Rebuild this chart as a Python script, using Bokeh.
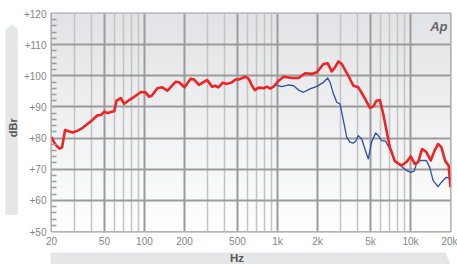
import math
import numpy as np
from bokeh.plotting import figure
from bokeh.layouts import row, column
from bokeh.models import Range1d, FixedTicker, Label, BoxAnnotation
from bokeh.core.properties import value
from bokeh.embed import file_html
from bokeh.resources import INLINE

# ---------------- data ----------------
red_freq = [20, 21.0, 21.7, 23.0, 24.0, 25.3, 27.3, 28.9, 31.5, 34.3, 39.6, 44.4, 47.1, 49.9,
            52.8, 55.9, 59.3, 61.7, 66.4, 70.4, 76.8, 86.0, 93.8, 102, 108, 113, 125, 136,
            149, 172, 182, 200, 222, 236, 257, 288, 296, 323, 342, 360, 388, 418, 456, 483,
            512, 574, 608, 644, 675, 723, 788, 834, 883, 935, 1020, 1112, 1284, 1442, 1614,
            1812, 1976, 2218, 2388, 2559, 2710, 2872, 3041, 3412, 3722, 4056, 4425, 4957,
            5250, 5560, 5888, 6237, 6606, 6998, 7622, 8562, 9332, 10046, 10767, 11421,
            12235, 13180, 14195, 15206, 16110, 17064, 18280, 19360, 20000]
red_db = [80.3, 78.5, 77.6, 76.6, 77.0, 82.6, 82.1, 81.8, 82.4, 83.3, 85.4, 87.3, 87.4, 88.5,
          88.0, 88.4, 88.6, 92.0, 92.8, 91.0, 92.2, 93.6, 94.8, 94.7, 93.3, 93.5, 96.0, 96.3,
          95.2, 98.1, 97.9, 96.3, 99.0, 98.8, 97.1, 98.4, 98.6, 96.5, 96.8, 96.3, 97.8, 97.4,
          97.9, 98.8, 98.8, 99.7, 99.0, 96.8, 95.4, 96.2, 96.0, 96.5, 95.9, 96.5, 98.4, 99.7,
          99.3, 99.3, 100.8, 100.6, 101.1, 103.8, 104.0, 101.4, 102.7, 104.6, 103.8, 100.0,
          96.8, 96.3, 93.6, 89.7, 90.1, 92.0, 92.2, 87.8, 82.4, 77.1, 72.6, 71.2, 72.3, 74.1,
          71.7, 72.3, 76.5, 75.5, 72.8, 76.0, 78.1, 77.1, 72.6, 71.2, 64.2]

blue_freq = [935, 963, 1080, 1213, 1322, 1442, 1570, 1760, 1976, 2218, 2388, 2487, 2636, 2791,
             2953, 3133, 3316, 3508, 3722, 3872, 4056, 4296, 4546, 4820, 5101, 5470, 5728,
             6062, 6498, 6998, 7622, 8562, 9332, 10046, 10660, 11093, 11740, 13180, 13957,
             14791, 16110, 17064, 18600, 19694, 20000]
blue_db = [96.5, 97.1, 96.5, 97.1, 96.8, 95.4, 94.7, 95.8, 96.6, 97.9, 99.3, 97.9, 94.2, 91.5,
           91.0, 85.6, 80.3, 78.7, 78.4, 79.0, 80.8, 79.7, 76.5, 73.3, 78.7, 81.6, 80.8, 79.2,
           79.0, 76.5, 72.8, 70.9, 69.6, 69.0, 69.4, 71.7, 72.8, 72.8, 70.6, 66.4, 64.4, 65.8,
           67.4, 67.2, 66.4]

x_ticks = [20, 50, 100, 200, 500, 1000, 2000, 5000, 10000, 20000]
x_tick_labels = ["20", "50", "100", "200", "500", "1k", "2k", "5k", "10k", "20k"]
x_minor = [30, 40, 60, 70, 80, 90, 300, 400, 600, 700, 800, 900,
           3000, 4000, 6000, 7000, 8000, 9000]
y_ticks = [50, 60, 70, 80, 90, 100, 110, 120]
y_tick_labels = ["+50", "+60", "+70", "+80", "+90", "+100", "+110", "+120"]
y_minor = [v for v in range(50, 121, 2) if v % 10 != 0]

x_title = "Hz"
y_title = "dBr"
logo = "Ap"

# ---------------- layout ----------------
TOTAL_W, TOTAL_H = 457, 264
LEFT_W = 20          # strip holding the dBr bar
BOTTOM_H = 14        # strip holding the Hz bar
W, H = TOTAL_W - LEFT_W, TOTAL_H - BOTTOM_H
ML, MR, MT, MB = 29, 7, 13, 19
FW, FH = W - ML - MR, H - MT - MB

GRID_MAJ = "#9b9b9b"
GRID_MIN = "#c3c3c3"
LABEL_C = "#858585"
BAR_C = "#e5e6e8"
TITLE_C = "#555555"
FONT = "Liberation Sans"

p = figure(width=W, height=H, x_axis_type="log",
           x_range=Range1d(20, 20000), y_range=Range1d(50, 120),
           min_border_left=ML, min_border_right=MR, min_border_top=MT, min_border_bottom=MB,
           output_backend="svg", toolbar_location=None,
           background_fill_color="#fdfdfd", border_fill_color="white",
           outline_line_color=GRID_MAJ, outline_line_width=2)

# background gradient (top grey -> bottom white)
n = 40
edges = np.linspace(50, 120, n + 1)
c_top = np.array([226, 227, 230])
c_bot = np.array([254, 254, 254])
for i in range(n):
    t = (edges[i] + edges[i + 1]) / 2
    f = (t - 50) / 70.0
    c = (c_bot + (c_top - c_bot) * f).round().astype(int)
    p.add_layout(BoxAnnotation(bottom=edges[i], top=edges[i + 1] + 0.2,
                               fill_color="#%02x%02x%02x" % tuple(c), fill_alpha=1,
                               line_color=None, level="image"))

# axes
xt = FixedTicker(ticks=x_ticks, minor_ticks=x_minor)
yt = FixedTicker(ticks=y_ticks, minor_ticks=y_minor)
p.xaxis.ticker = xt
p.yaxis.ticker = yt
p.xgrid.ticker = xt
p.ygrid.ticker = yt
p.xaxis.major_label_overrides = {v: s for v, s in zip(x_ticks, x_tick_labels)}
p.yaxis.major_label_overrides = {v: s for v, s in zip(y_ticks, y_tick_labels)}

for ax in (p.xaxis, p.yaxis):
    ax.axis_line_color = None
    ax.major_tick_line_color = None
    ax.major_tick_in = 0
    ax.major_tick_out = 0
    ax.major_label_text_color = LABEL_C
    ax.major_label_text_font = FONT
    ax.major_label_text_font_size = "10px"
p.xaxis.minor_tick_line_color = None
p.xaxis.minor_tick_out = 0
p.xaxis.major_label_standoff = 4
p.yaxis.major_label_standoff = 5
p.yaxis.minor_tick_line_color = GRID_MAJ
p.yaxis.minor_tick_line_width = 1.5
p.yaxis.minor_tick_in = 5
p.yaxis.minor_tick_out = 0

p.xgrid.grid_line_color = GRID_MAJ
p.xgrid.grid_line_width = 2
p.xgrid.minor_grid_line_color = GRID_MIN
p.xgrid.minor_grid_line_width = 1.5
p.ygrid.grid_line_color = GRID_MAJ
p.ygrid.grid_line_width = 2

# data lines
p.line(blue_freq, blue_db, line_color="#2f4fa6", line_width=1.3, line_join="round")
p.line(red_freq, red_db, line_color="#ee2424", line_width=2.6, line_join="round")

# logo
p.add_layout(Label(x=FW - 5, y=FH - 5, x_units="screen", y_units="screen", text=logo,
                   text_align="right", text_baseline="top", text_font=FONT,
                   text_font_size="13px", text_font_style="bold italic", text_color="#666666"))

# ---------------- left strip: dBr bar ----------------
left = figure(width=LEFT_W, height=H, x_range=Range1d(0, LEFT_W), y_range=Range1d(H, 0),
              min_border=0, output_backend="svg", toolbar_location=None,
              x_axis_location=None, y_axis_location=None, outline_line_color=None,
              background_fill_color="white", border_fill_color="white")
left.grid.visible = False
left.patch([5, 17.3, 17.3, 11.1, 5], [231, 231, 18.5, 12.7, 18.5],
           fill_color=BAR_C, line_color=None)
left.text([12.8], [131], text=[y_title], angle=math.pi / 2, text_align="center",
          text_baseline="middle", text_font=value(FONT), text_font_size="11px",
          text_font_style="bold", text_color=TITLE_C)

# ---------------- bottom strip: Hz bar ----------------
bottom = figure(width=TOTAL_W, height=BOTTOM_H, x_range=Range1d(0, TOTAL_W),
                y_range=Range1d(BOTTOM_H, 0), min_border=0, output_backend="svg",
                toolbar_location=None, x_axis_location=None, y_axis_location=None,
                outline_line_color=None, background_fill_color="white",
                border_fill_color="white")
bottom.grid.visible = False
bottom.patch([50, 445, 450.5, 50], [2, 2, 15, 15], fill_color=BAR_C, line_color=None)
bottom.text([236.5], [7.2], text=[x_title], text_align="center", text_baseline="middle",
            text_font=value(FONT), text_font_size="11.5px", text_font_style="bold",
            text_color=TITLE_C)

layout = column(row(left, p, spacing=0), bottom, spacing=0)

open("out.html", "w").write(file_html(layout, INLINE))
